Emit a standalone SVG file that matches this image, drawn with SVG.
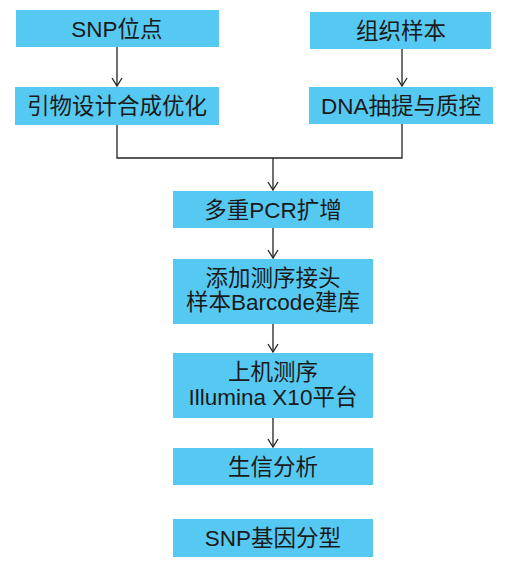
<svg xmlns="http://www.w3.org/2000/svg" width="512" height="569" viewBox="0 0 512 569">
<style>
.box{fill:#56C9F2;}
.t{font-family:"Liberation Sans","Noto Sans CJK SC",sans-serif;font-size:22.5px;fill:#1a1a1a;text-anchor:middle;}
.c{fill:none;stroke:#222;stroke-width:1.3;}
</style>
<defs>
<marker id="ah" markerWidth="12" markerHeight="12" refX="10" refY="6" orient="auto" markerUnits="userSpaceOnUse" viewBox="0 0 12 12">
<polyline points="2,1 10,6 2,11" fill="none" stroke="#222" stroke-width="1.3"/>
</marker>
</defs>
<rect width="512" height="569" fill="#fff"/>
<g id="connectors">
<line class="c" x1="117" y1="47" x2="117" y2="86" marker-end="url(#ah)"/>
<line class="c" x1="402" y1="49" x2="402" y2="86" marker-end="url(#ah)"/>
<polyline class="c" points="117,125 117,158 402,158 402,124"/>
<line class="c" x1="273" y1="158" x2="273" y2="190" marker-end="url(#ah)"/>
<line class="c" x1="273" y1="228" x2="273" y2="258" marker-end="url(#ah)"/>
<line class="c" x1="273" y1="324" x2="273" y2="352" marker-end="url(#ah)"/>
<line class="c" x1="273" y1="418" x2="273" y2="447" marker-end="url(#ah)"/>
</g>
<g id="n1"><rect class="box" x="16" y="10" width="203" height="37"/><text class="t" x="117" y="37">SNP位点</text></g>
<g id="n2"><rect class="box" x="15" y="87" width="204" height="38"/><text class="t" x="117" y="114">引物设计合成优化</text></g>
<g id="n3"><rect class="box" x="310" y="12" width="181" height="37"/><text class="t" x="401" y="39">组织样本</text></g>
<g id="n4"><rect class="box" x="309" y="87" width="184" height="37"/><text class="t" x="401" y="114">DNA抽提与质控</text></g>
<g id="n5"><rect class="box" x="173" y="191" width="200" height="37"/><text class="t" x="273" y="218">多重PCR扩增</text></g>
<g id="n6"><rect class="box" x="173" y="259" width="200" height="65"/><text class="t" x="273" y="286">添加测序接头</text><text class="t" x="273" y="310">样本Barcode建库</text></g>
<g id="n7"><rect class="box" x="173" y="353" width="200" height="65"/><text class="t" x="273" y="380">上机测序</text><text class="t" x="273" y="405">Illumina X10平台</text></g>
<g id="n8"><rect class="box" x="173" y="448" width="200" height="37"/><text class="t" x="273" y="475">生信分析</text></g>
<g id="n9"><rect class="box" x="173" y="519" width="200" height="38"/><text class="t" x="273" y="546">SNP基因分型</text></g>
</svg>
